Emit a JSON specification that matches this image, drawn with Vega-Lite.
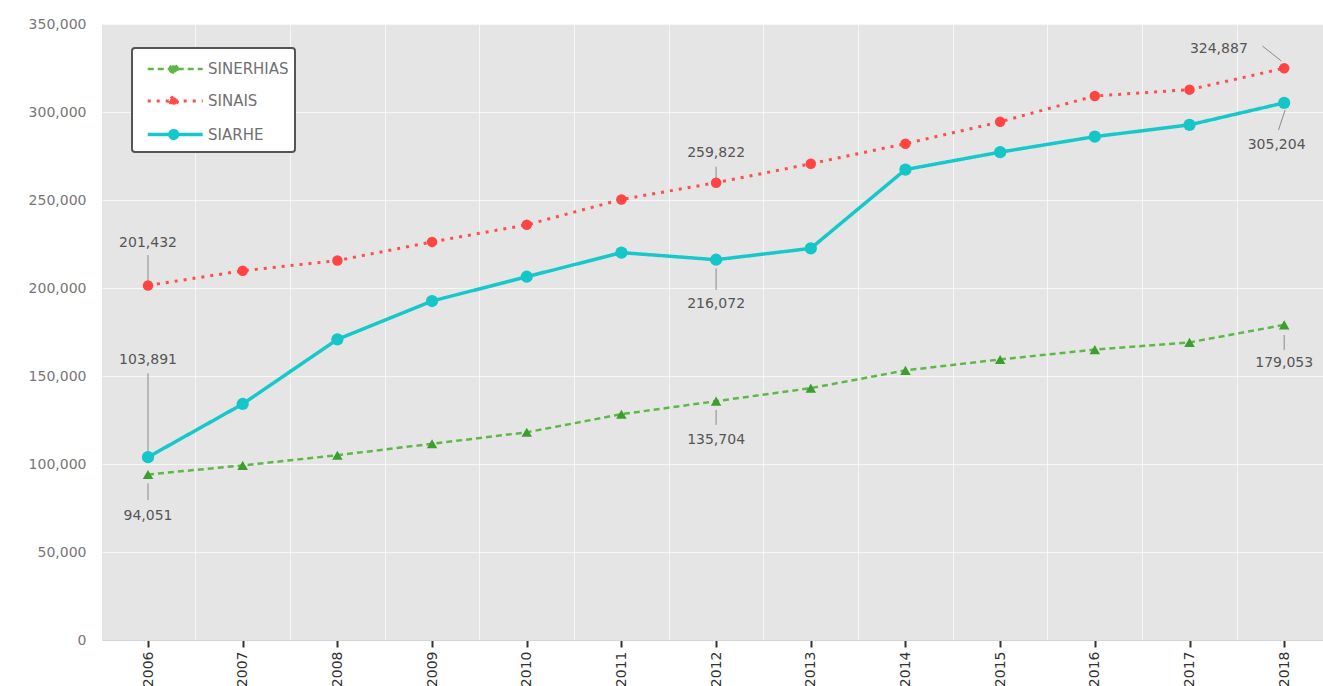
{
  "$schema": "https://vega.github.io/schema/vega-lite/v6.json",
  "width": 1221,
  "height": 616,
  "autosize": "none",
  "padding": {"left": 102, "top": 24, "right": 0, "bottom": 46},
  "background": "white",
  "config": {
    "view": {"fill": "#e6e5e6", "stroke": null},
    "font": "DejaVu Sans",
    "axisY": {"labelExpr": "format(datum.value, ',')"},
    "legend": {
      "title": null,
      "orient": "none",
      "legendX": 30,
      "legendY": 24,
      "direction": "vertical",
      "symbolType": "M-0.42,0H3.58M1.19,0a0.28,0.28 0 1,0 0.56,0a0.28,0.28 0 1,0 -0.56,0",
      "symbolSize": 756,
      "symbolStrokeWidth": 3,
      "labelFontSize": 15,
      "labelColor": "#707070",
      "labelFont": "DejaVu Sans",
      "labelOffset": 39,
      "rowPadding": 7.5,
      "padding": 6,
      "strokeColor": "#555555",
      "fillColor": "#ffffff",
      "cornerRadius": 3
    }
  },
  "datasets": {
    "series": [
      {"year": 2006, "system": "SIARHE", "value": 103891},
      {"year": 2007, "system": "SIARHE", "value": 134100},
      {"year": 2008, "system": "SIARHE", "value": 170800},
      {"year": 2009, "system": "SIARHE", "value": 192600},
      {"year": 2010, "system": "SIARHE", "value": 206400},
      {"year": 2011, "system": "SIARHE", "value": 220100},
      {"year": 2012, "system": "SIARHE", "value": 216072},
      {"year": 2013, "system": "SIARHE", "value": 222500},
      {"year": 2014, "system": "SIARHE", "value": 267300},
      {"year": 2015, "system": "SIARHE", "value": 277200},
      {"year": 2016, "system": "SIARHE", "value": 286000},
      {"year": 2017, "system": "SIARHE", "value": 292700},
      {"year": 2018, "system": "SIARHE", "value": 305204},
      {"year": 2006, "system": "SINAIS", "value": 201432},
      {"year": 2007, "system": "SINAIS", "value": 209800},
      {"year": 2008, "system": "SINAIS", "value": 215600},
      {"year": 2009, "system": "SINAIS", "value": 226200},
      {"year": 2010, "system": "SINAIS", "value": 235900},
      {"year": 2011, "system": "SINAIS", "value": 250300},
      {"year": 2012, "system": "SINAIS", "value": 259822},
      {"year": 2013, "system": "SINAIS", "value": 270600},
      {"year": 2014, "system": "SINAIS", "value": 282000},
      {"year": 2015, "system": "SINAIS", "value": 294400},
      {"year": 2016, "system": "SINAIS", "value": 309100},
      {"year": 2017, "system": "SINAIS", "value": 312700},
      {"year": 2018, "system": "SINAIS", "value": 324887},
      {"year": 2006, "system": "SINERHIAS", "value": 94051},
      {"year": 2007, "system": "SINERHIAS", "value": 99200},
      {"year": 2008, "system": "SINERHIAS", "value": 105000},
      {"year": 2009, "system": "SINERHIAS", "value": 111500},
      {"year": 2010, "system": "SINERHIAS", "value": 118000},
      {"year": 2011, "system": "SINERHIAS", "value": 128300},
      {"year": 2012, "system": "SINERHIAS", "value": 135704},
      {"year": 2013, "system": "SINERHIAS", "value": 143100},
      {"year": 2014, "system": "SINERHIAS", "value": 153200},
      {"year": 2015, "system": "SINERHIAS", "value": 159400},
      {"year": 2016, "system": "SINERHIAS", "value": 165000},
      {"year": 2017, "system": "SINERHIAS", "value": 169100},
      {"year": 2018, "system": "SINERHIAS", "value": 179053}
    ],
    "notes": [
      {"v": 201432, "lx": 2006, "ly": 225400, "ax": 2006, "ay": 218700, "bx": 2006, "by": 202700},
      {"v": 103891, "lx": 2006, "ly": 159100, "ax": 2006, "ay": 151500, "bx": 2006, "by": 106500},
      {"v": 94051, "lx": 2006, "ly": 70450, "ax": 2006, "ay": 89000, "bx": 2006, "by": 79500},
      {"v": 259822, "lx": 2012, "ly": 276900, "ax": 2012, "ay": 268900, "bx": 2012, "by": 261400},
      {"v": 216072, "lx": 2012, "ly": 190900, "ax": 2012, "ay": 211200, "bx": 2012, "by": 198900},
      {"v": 135704, "lx": 2012, "ly": 113600, "ax": 2012, "ay": 130700, "bx": 2012, "by": 122200},
      {"v": 324887, "lx": 2017.31, "ly": 335800, "ax": 2017.77, "ay": 337500, "bx": 2017.97, "by": 329000},
      {"v": 305204, "lx": 2017.92, "ly": 281250, "ax": 2018.01, "ay": 301100, "bx": 2017.94, "by": 289800},
      {"v": 179053, "lx": 2018, "ly": 157200, "ax": 2018, "ay": 173300, "bx": 2018, "by": 164800}
    ]
  },
  "resolve": {"axis": {"x": "independent"}},
  "layer": [
    {
      "data": {"name": "notes"},
      "mark": {"type": "rule", "color": "#8a8a8a", "strokeWidth": 1},
      "encoding": {
        "x": {
          "field": "ax", "type": "quantitative",
          "scale": {"domain": [2005.514, 2018.41], "nice": false, "zero": false},
          "axis": {
            "orient": "top",
            "values": [2006.5, 2007.5, 2008.5, 2009.5, 2010.5, 2011.5, 2012.5, 2013.5, 2014.5, 2015.5, 2016.5, 2017.5],
            "grid": true, "gridColor": "#ffffff", "gridOpacity": 0.7,
            "labels": false, "ticks": false, "domain": false, "title": null
          }
        },
        "x2": {"field": "bx"},
        "y": {
          "field": "ay", "type": "quantitative",
          "scale": {"domain": [0, 350000], "nice": false},
          "axis": {
            "values": [0, 50000, 100000, 150000, 200000, 250000, 300000, 350000],
            "labelExpr": "format(datum.value, ',')",
            "labelColor": "#777777",
            "labelFontSize": 14,
            "labelFont": "DejaVu Sans",
            "ticks": false,
            "domain": false,
            "grid": true,
            "gridColor": "#ffffff",
            "gridOpacity": 0.7,
            "gridWidth": 1,
            "labelPadding": 16,
            "title": null
          }
        },
        "y2": {"field": "by"}
      }
    },
    {
      "data": {"name": "series"},
      "mark": {"type": "line", "strokeCap": "butt"},
      "encoding": {
        "x": {
          "field": "year", "type": "quantitative",
          "axis": {
            "orient": "bottom",
            "values": [2006, 2007, 2008, 2009, 2010, 2011, 2012, 2013, 2014, 2015, 2016, 2017, 2018],
            "format": "d",
            "labelAngle": -90,
            "labelAlign": "right",
            "labelBaseline": "middle",
            "labelFontSize": 14,
            "labelColor": "#333333",
            "labelPadding": 4,
            "ticks": true,
            "tickSize": 7,
            "tickWidth": 2,
            "tickColor": "#333333",
            "domain": true,
            "domainColor": "#d4d4d4",
            "grid": false,
            "title": null
          }
        },
        "y": {"field": "value", "type": "quantitative", "title": null},
        "stroke": {
          "field": "system", "type": "nominal",
          "scale": {"domain": ["SINERHIAS", "SINAIS", "SIARHE"], "range": ["#5db847", "#ff4d4d", "#16c8c9"]},
          "legend": {
            "encode": {
              "legend": {"update": {"strokeWidth": {"value": 2}}},
              "symbols": {"update": {"fill": {"scale": "stroke", "field": "value"}}}
            }
          }
        },
        "strokeDash": {
          "field": "system", "type": "nominal",
          "scale": {"domain": ["SINERHIAS", "SINAIS", "SIARHE"], "range": [[6, 4], [3, 6], [1, 0]]},
          "legend": {
            "encode": {
              "legend": {"update": {"strokeWidth": {"value": 2}}},
              "symbols": {"update": {"fill": {"scale": "stroke", "field": "value"}}}
            }
          }
        },
        "strokeWidth": {
          "field": "system", "type": "nominal",
          "scale": {"domain": ["SINERHIAS", "SINAIS", "SIARHE"], "range": [2.5, 3.5, 4]},
          "legend": null
        }
      }
    },
    {
      "data": {"name": "series"},
      "transform": [{"filter": "datum.system === 'SINERHIAS'"}],
      "mark": {"type": "point", "filled": true, "opacity": 1, "shape": "triangle-up", "size": 110, "color": "#3b9e2e"},
      "encoding": {
        "x": {"field": "year", "type": "quantitative", "axis": null},
        "y": {"field": "value", "type": "quantitative", "title": null}
      }
    },
    {
      "data": {"name": "series"},
      "transform": [{"filter": "datum.system === 'SINAIS'"}],
      "mark": {"type": "point", "filled": true, "opacity": 1, "shape": "circle", "size": 110, "color": "#ff4444"},
      "encoding": {
        "x": {"field": "year", "type": "quantitative", "axis": null},
        "y": {"field": "value", "type": "quantitative", "title": null}
      }
    },
    {
      "data": {"name": "series"},
      "transform": [{"filter": "datum.system === 'SIARHE'"}],
      "mark": {"type": "point", "filled": true, "opacity": 1, "shape": "circle", "size": 150, "color": "#14c6c8"},
      "encoding": {
        "x": {"field": "year", "type": "quantitative", "axis": null},
        "y": {"field": "value", "type": "quantitative", "title": null}
      }
    },
    {
      "data": {"name": "notes"},
      "mark": {"type": "text", "align": "center", "baseline": "middle", "fontSize": 14, "color": "#555555", "font": "DejaVu Sans"},
      "encoding": {
        "x": {"field": "lx", "type": "quantitative", "axis": null},
        "y": {"field": "ly", "type": "quantitative", "title": null},
        "text": {"field": "v", "type": "quantitative", "format": ","}
      }
    }
  ]
}
